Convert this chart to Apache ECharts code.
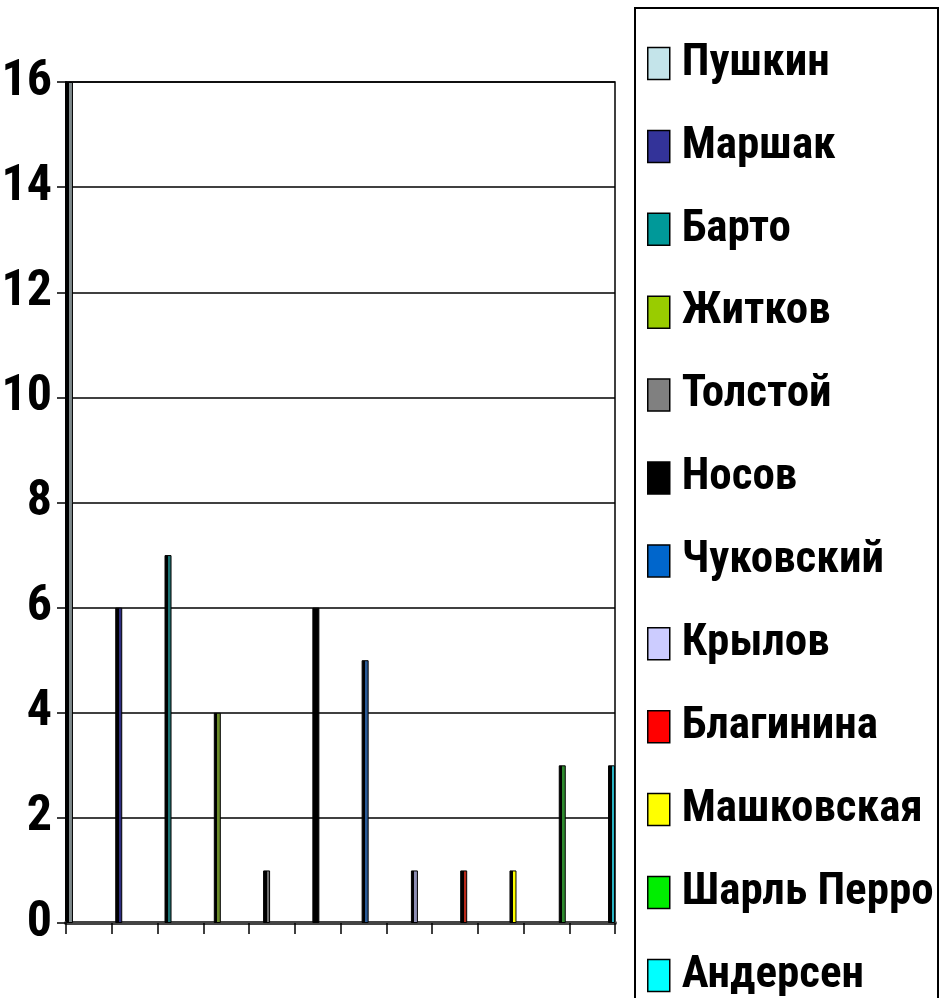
<!DOCTYPE html>
<html>
<head>
<meta charset="utf-8">
<script src="https://cdn.jsdelivr.net/npm/echarts@6/dist/echarts.min.js"></script>
<style>
	html, body { margin: 0; padding: 0; background: #fff; }
	#chart { width: 940px; height: 998px; }
</style>
</head>
<body>
<div id="chart"></div>
<script>
// данные
var authors = ['Пушкин', 'Маршак', 'Барто', 'Житков', 'Толстой', 'Носов', 'Чуковский', 'Крылов', 'Благинина', 'Машковская', 'Шарль Перро', 'Андерсен'];
var counts = [16, 6, 7, 4, 1, 6, 5, 1, 1, 1, 3, 3];
// legend colours and the shaded front faces of the thin 3D bars
var colors = ['#c4e4ea', '#333399', '#009999', '#99cc00', '#808080', '#000000', '#0066cc', '#ccccff', '#ff0000', '#ffff00', '#00ee00', '#00ffff'];
var faceColors = ['#7f8a8c', '#2e2e80', '#1d7373', '#6b8a2a', '#6e6e6e', '#000000', '#2a5a96', '#8e8eb4', '#b8281a', '#ffff00', '#2e8a2e', '#2ab4c4'];

// narrow bold, like Arial Narrow in the original
var font = 'Roboto, "Open Sans", sans-serif';
var weight = 'bold condensed';

var chart = echarts.init(document.getElementById('chart'));

// each author is its own series in one shared category
var series = authors.map(function (name, i) {
	return {
		name: name,
		type: 'bar',
		xAxisIndex: 0,
		barWidth: 7,
		barGap: '604%',
		itemStyle: {
			// dark side on the left, coloured face on the right
			color: new echarts.graphic.LinearGradient(0, 0, 1, 0, [
				{ offset: 0, color: '#000' },
				{ offset: 0.5, color: '#000' },
				{ offset: 0.5, color: faceColors[i] },
				{ offset: 1, color: faceColors[i] }
			]),
			borderColor: '#000', borderWidth: 1
		},
		data: [counts[i]]
	};
});

var legendData = authors.map(function (name, i) {
	return { name: name, itemStyle: { color: colors[i], borderColor: '#000', borderWidth: 1.5 } };
});

var options = {
	animation: false,
	grid: {
		show: true,
		left: 66, right: 325, top: 82, bottom: 75,
		outerBoundsMode: 'none',
		containLabel: false,
		borderColor: '#000', borderWidth: 1.5
	},
	graphic: [{	// рамка легенды
		type: 'rect',
		z: 0,
		shape: { x: 635, y: 8, width: 303, height: 1000 },
		style: { fill: '#fff', stroke: '#000', lineWidth: 2 }
	}],
	legend: {
		orient: 'vertical',
		left: 647, top: 41,
		height: 1100,
		padding: 0,
		icon: 'rect',
		itemWidth: 22, itemHeight: 32,
		itemGap: 37.9,
		selectedMode: false,
		formatter: '{t|{name}}',	// rich text, only to push the label a bit off the icon
		textStyle: {
			color: '#000', fontSize: 45, fontWeight: weight, fontFamily: font, lineHeight: 44,
			rich: {
				t: { color: '#000', fontSize: 45, fontWeight: weight, fontFamily: font, lineHeight: 44, padding: [0, 0, 0, 7] }
			}
		},
		data: legendData
	},
	xAxis: [
		{
			type: 'category',
			show: false,
			data: ['']
		},
		{
			type: 'category',
			position: 'bottom',
			boundaryGap: true,
			data: authors,
			axisLine: { show: true, lineStyle: { color: '#444', width: 4 } },
			axisTick: { show: true, interval: 0, length: 11, lineStyle: { color: '#000', width: 1.5 } },
			axisLabel: { show: false }
		}
	],
	yAxis: {
		type: 'value',
		min: 0, max: 16, interval: 2,
		axisLine: { show: true, lineStyle: { color: '#000', width: 2 } },
		axisTick: { show: true, length: 9, lineStyle: { color: '#000', width: 1.5 } },
		splitLine: { show: true, lineStyle: { color: '#000', width: 1.5 } },
		axisLabel: { color: '#000', fontSize: 50, fontWeight: weight, fontFamily: font, margin: 14 }
	},
	series: series
};

chart.setOption(options);
</script>
</body>
</html>
